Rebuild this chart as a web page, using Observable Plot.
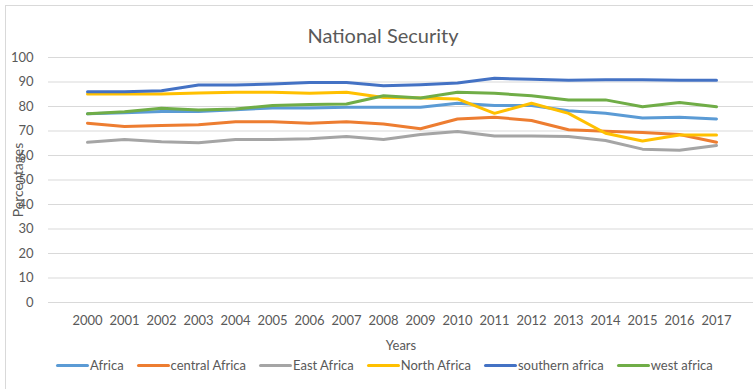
<!DOCTYPE html>
<html>
<head>
<meta charset="utf-8">
<script src="https://cdn.jsdelivr.net/npm/d3@7"></script>
<script src="https://cdn.jsdelivr.net/npm/@observablehq/plot@0.6"></script>
<style>
  html, body { margin: 0; padding: 0; background: #fff; }
  #chart {
    position: relative; width: 753px; height: 389px; overflow: hidden;
    font-family: Lato, "Open Sans", sans-serif; color: #595959;
  }
  #border {
    position: absolute; left: 5px; top: 5px; width: 760px; height: 400px;
    border: 1px solid #d9d9d9; box-sizing: border-box;
  }
  #title {
    position: absolute; left: 0; width: 766px; top: 23px; text-align: center;
    font-size: 20px; line-height: 24px;
  }
  #plot { position: absolute; left: 0; top: 0; }
  #legend {
    position: absolute; left: 56px; top: 357px; display: flex; gap: 13px;
    font-size: 13px; line-height: 16px; white-space: nowrap;
  }
  #legend .item { display: flex; align-items: center; }
  #legend .sw { width: 33px; height: 3px; border-radius: 1.5px; margin-right: 1px; }
</style>
</head>
<body>
<div id="chart">
  <div id="border"></div>
  <div id="plot"></div>
  <div id="title">National Security</div>
  <div id="legend"></div>
</div>
<script>
// Survey years
const years = [2000, 2001, 2002, 2003, 2004, 2005, 2006, 2007, 2008,
               2009, 2010, 2011, 2012, 2013, 2014, 2015, 2016, 2017];

// Region names and series colours
const regions = ["Africa", "central Africa", "East Africa", "North Africa", "southern africa", "west africa"];
const colors  = ["#5B9BD5", "#ED7D31", "#A5A5A5", "#FFC000", "#4472C4", "#70AD47"];

// National security scores (percentages), one list per region
const africa   = [77.0, 77.4, 78.0, 78.0, 78.7, 79.4, 79.4, 79.7, 79.7, 79.7, 81.3, 80.4, 80.4, 78.3, 77.2, 75.3, 75.6, 74.9];
const central  = [73.2, 71.8, 72.2, 72.6, 73.8, 73.8, 73.2, 73.8, 72.9, 70.9, 74.9, 75.6, 74.3, 70.5, 69.9, 69.4, 68.6, 65.4];
const east     = [65.4, 66.5, 65.6, 65.2, 66.5, 66.5, 66.8, 67.8, 66.5, 68.6, 69.8, 68.0, 68.0, 67.8, 66.1, 62.6, 62.1, 64.1];
const north    = [85.1, 85.1, 85.1, 85.5, 85.8, 85.8, 85.4, 85.8, 83.7, 83.5, 83.1, 77.2, 81.3, 77.2, 69.1, 65.9, 68.4, 68.4];
const southern = [86.0, 86.0, 86.4, 88.8, 88.8, 89.2, 89.8, 89.8, 88.5, 88.9, 89.6, 91.5, 91.1, 90.7, 90.9, 90.9, 90.7, 90.7];
const west     = [77.0, 77.9, 79.3, 78.6, 79.0, 80.4, 80.8, 81.0, 84.4, 83.5, 85.8, 85.4, 84.4, 82.7, 82.7, 79.9, 81.6, 79.9];

// Y-axis tick values
const yTicks = [0, 10, 20, 30, 40, 50, 60, 70, 80, 90, 100];

const seriesValues = [africa, central, east, north, southern, west];
const rows = regions.flatMap((r, i) =>
  years.map((yr, j) => ({ region: r, year: String(yr), value: seriesValues[i][j] })));

const plot = Plot.plot({
  width: 753,
  height: 389,
  marginTop: 57,
  marginBottom: 87,
  marginLeft: 48,
  marginRight: 0,
  style: { fontFamily: "Lato, 'Open Sans', sans-serif", fontSize: "13px", color: "#595959", background: "transparent" },
  x: { type: "point", domain: years.map(String), range: [67, 736] },
  y: { domain: [0, 100] },
  color: { domain: regions, range: colors },
  marks: [
    Plot.gridY(yTicks, { stroke: "#d9d9d9", strokeOpacity: 1, strokeWidth: 1 }),
    Plot.axisY(yTicks, { tickSize: 0, tickPadding: 15, label: null }),
    // vertical axis title, drawn slightly larger than the tick labels
    Plot.axisY([], { tickSize: 0, fontSize: 14, label: "Percentages", labelAnchor: "center", labelArrow: "none", labelOffset: 35 }),
    Plot.axisX({ tickSize: 0, tickPadding: 13, label: "Years", labelAnchor: "center", labelArrow: "none", labelOffset: 47 }),
    Plot.line(rows, { x: "year", y: "value", z: "region", stroke: "region", strokeWidth: 3, strokeLinejoin: "round", strokeLinecap: "round" })
  ]
});
document.getElementById("plot").appendChild(plot);

// Legend beneath the chart
const legend = document.getElementById("legend");
regions.forEach((r, i) => {
  const item = document.createElement("div");
  item.className = "item";
  const sw = document.createElement("span");
  sw.className = "sw";
  sw.style.background = colors[i];
  const label = document.createElement("span");
  label.textContent = r;
  item.append(sw, label);
  legend.appendChild(item);
});
</script>
</body>
</html>
